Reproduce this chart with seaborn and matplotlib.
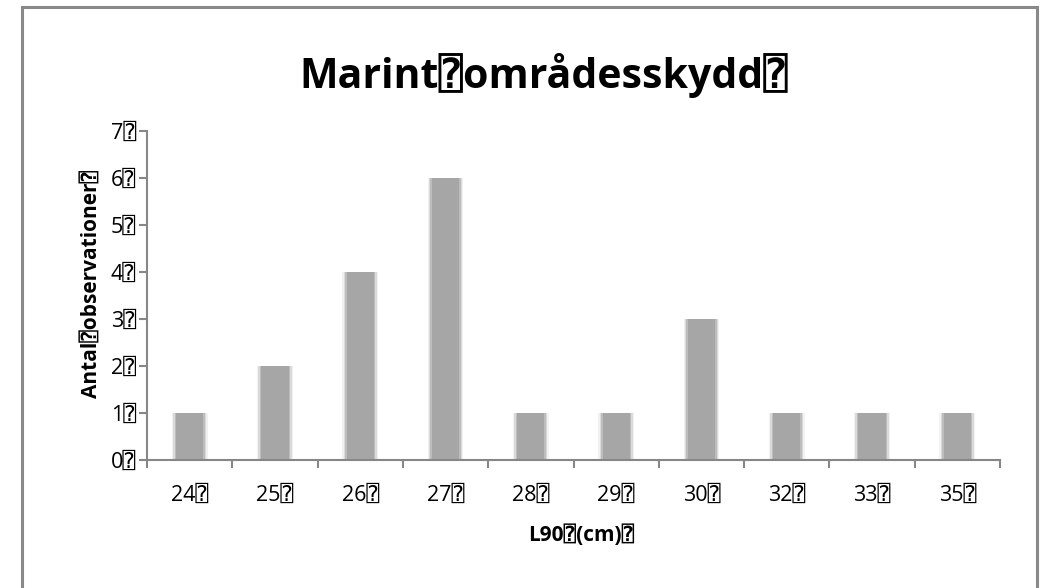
import matplotlib
matplotlib.use("Agg")
import matplotlib.pyplot as plt
import seaborn as sns
import pandas as pd
from matplotlib.patches import Rectangle
from matplotlib.ticker import FixedLocator

# L90 length classes (cm) and number of observations
lengths = ["24", "25", "26", "27", "28", "29", "30", "32", "33", "35"]
counts = [1, 2, 4, 6, 1, 1, 3, 1, 1, 1]
mark = "\u2370"
title_text = "Marint" + mark + "områdesskydd" + mark
xlabel_text = "L90" + mark + "(cm)" + mark
ylabel_text = "Antal" + mark + "observationer" + mark
y_ticks = list(range(0, 8))

sns.set_theme(style="white")
plt.rcParams["font.family"] = ["Open Sans", "DejaVu Sans", "DejaVu Sans Mono"]
plt.rcParams["text.color"] = "black"
plt.rcParams["axes.labelcolor"] = "black"

df = pd.DataFrame({"length": [l + mark for l in lengths], "count": counts})

fig = plt.figure(figsize=(10.4, 5.88), dpi=100)
ax = fig.add_axes([147 / 1040, 1 - 460 / 588, 853 / 1040, 329 / 588])

# soft-edged bars: faint wide layers under a narrower solid core
for w, a in [(0.42, 0.15), (0.39, 0.30), (0.355, 0.55)]:
    sns.barplot(data=df, x="length", y="count", color="#a6a6a6", width=w,
                saturation=1, alpha=a, linewidth=0, ax=ax, errorbar=None)
sns.barplot(data=df, x="length", y="count", color="#a6a6a6", width=0.32,
            saturation=1, linewidth=0, ax=ax, errorbar=None)

ax.set_xlim(-0.5, len(lengths) - 0.5)
ax.set_ylim(0, 7)
ax.set_yticks(y_ticks)
ax.set_yticklabels([f"{v}{mark}" for v in y_ticks])
ax.xaxis.set_minor_locator(FixedLocator([i + 0.5 for i in range(-1, len(lengths))]))

for s in ["top", "right"]:
    ax.spines[s].set_visible(False)
for s in ["left", "bottom"]:
    ax.spines[s].set_color("#878787")
    ax.spines[s].set_linewidth(1.5)

ax.tick_params(axis="x", which="major", length=0, pad=18, labelsize=15.5, labelcolor="black")
ax.tick_params(axis="x", which="minor", bottom=True, length=6, width=1.5, color="#878787")
ax.tick_params(axis="y", which="major", left=True, length=6, width=1.5, color="#878787",
               labelsize=15.5, labelcolor="black", pad=2)

ax.set_xlabel(xlabel_text, fontsize=15, fontweight="bold")
ax.xaxis.set_label_coords(0.509, -0.228)
ax.xaxis.label.set_va("center")
ax.set_ylabel(ylabel_text, fontsize=15, fontweight="bold")
ax.yaxis.set_label_coords(-0.0657, 0.535)
ax.yaxis.label.set_va("center")

fig.text(0.5226, 1 - 76 / 588, title_text, ha="center", va="center",
         fontsize=29.5, fontweight="bold", color="black")

# outer frame
fig.patches.append(Rectangle((22 / 1040, -0.003), 1015 / 1040, 1 - 7 / 588 + 0.003,
                             transform=fig.transFigure, fill=False,
                             edgecolor="#898989", linewidth=2.2))

fig.savefig("out.png", dpi=100, facecolor="white")
